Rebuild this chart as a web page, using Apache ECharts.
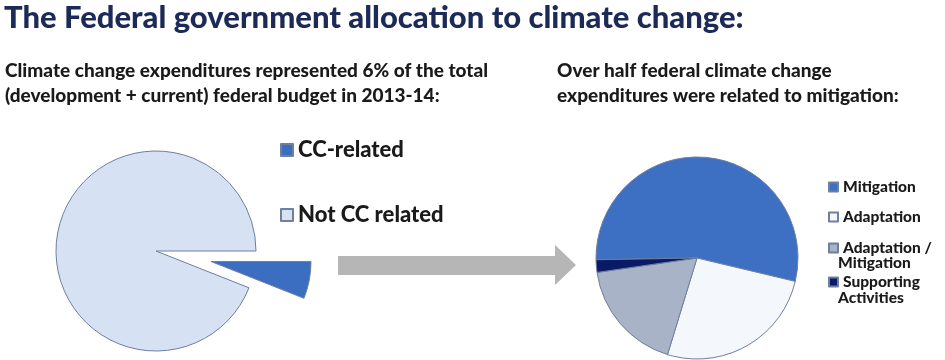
<!DOCTYPE html>
<html>
<head>
<meta charset="utf-8">
<script src="https://cdn.jsdelivr.net/npm/echarts@6/dist/echarts.min.js"></script>
<style>
  html, body { margin: 0; padding: 0; background: #ffffff; }
  #chart { width: 945px; height: 360px; }
</style>
</head>
<body>
<div id="chart"></div>
<script>
// Share of the federal budget (development + current), 2013-14, percent
const budgetNames = ['CC-related', 'Not CC related'];
const budgetValues = [6, 94];
const budgetColors = ['#3b6dc0', '#d6e1f3'];

// Breakdown of federal climate change expenditures, percent
const ccNames = ['Mitigation', 'Adaptation', 'Adaptation / Mitigation', 'Supporting Activities'];
const ccValues = [54, 26, 18, 2];
const ccColors = ['#3d6fc2', '#f4f7fc', '#a9b3c8', '#0b1a66'];

const FONT = 'Lato, "Open Sans", sans-serif';
const WEIGHT = 900;
const edge = '#6f7f9f';

const chart = echarts.init(document.getElementById('chart'), null, { renderer: 'canvas' });

function legendFor(name, left, top, icon, fontSize, label) {
  return {
    data: [name],
    left: left,
    top: top,
    orient: 'vertical',
    padding: 0,
    itemWidth: icon,
    itemHeight: icon,
    icon: 'rect',
    selectedMode: false,
    formatter: () => label,
    textStyle: { fontFamily: FONT, fontWeight: WEIGHT, fontSize: fontSize, color: '#1a1a1a' }
  };
}

const option = {
  backgroundColor: '#ffffff',
  animation: false,
  title: [
    {
      text: 'The Federal government allocation to climate change:',
      left: 4, top: 2, padding: 0,
      textStyle: { fontFamily: FONT, fontWeight: WEIGHT, fontSize: 31, color: '#1c2a58' }
    },
    {
      text: 'Climate change expenditures represented 6% of the total\n(development + current) federal budget in 2013-14:',
      left: 5, top: 58, padding: 0,
      textStyle: { fontFamily: FONT, fontWeight: WEIGHT, fontSize: 19, lineHeight: 25, color: '#1a1a1a' }
    },
    {
      text: 'Over half federal climate change\nexpenditures were related to mitigation:',
      left: 557, top: 58, padding: 0,
      textStyle: { fontFamily: FONT, fontWeight: WEIGHT, fontSize: 19, lineHeight: 25, color: '#1a1a1a' }
    }
  ],
  legend: [
    legendFor('CC-related', 280, 139, 12, 22, 'CC-related'),
    legendFor('Not CC related', 280, 204, 12, 22, 'Not CC related'),
    legendFor('Mitigation', 828, 179, 9, 15.5, 'Mitigation'),
    legendFor('Adaptation', 828, 209, 9, 15.5, 'Adaptation'),
    legendFor('Adaptation / Mitigation', 828, 240, 9, 15.5, 'Adaptation /'),
    legendFor('Supporting Activities', 828, 274, 9, 15.5, 'Supporting')
  ],
  graphic: [
    {
      type: 'polygon',
      shape: { points: [[338, 256], [555, 256], [555, 245], [576, 265], [555, 285], [555, 275], [338, 275]] },
      style: { fill: '#b6b6b6' }
    },
    {
      type: 'text', left: 838, top: 255,
      style: { text: 'Mitigation', fontFamily: FONT, fontWeight: WEIGHT, fontSize: 15.5, fill: '#1a1a1a' }
    },
    {
      type: 'text', left: 838, top: 290,
      style: { text: 'Activities', fontFamily: FONT, fontWeight: WEIGHT, fontSize: 15.5, fill: '#1a1a1a' }
    }
  ],
  series: [
    {
      type: 'pie',
      center: [156, 251],
      radius: [0, 100],
      startAngle: 0,
      clockwise: true,
      selectedMode: 'multiple',
      selectedOffset: 56,
      label: { show: false },
      labelLine: { show: false },
      emphasis: { disabled: true },
      data: budgetNames.map((n, i) => ({
        name: n,
        value: budgetValues[i],
        selected: i === 0,
        itemStyle: { color: budgetColors[i], borderColor: edge, borderWidth: 1 }
      }))
    },
    {
      type: 'pie',
      center: [697, 258],
      radius: [0, 101],
      startAngle: 181,
      clockwise: true,
      label: { show: false },
      labelLine: { show: false },
      emphasis: { disabled: true },
      data: ccNames.map((n, i) => ({
        name: n,
        value: ccValues[i],
        itemStyle: { color: ccColors[i], borderColor: edge, borderWidth: 1 }
      }))
    }
  ]
};

chart.setOption(option);
</script>
</body>
</html>
